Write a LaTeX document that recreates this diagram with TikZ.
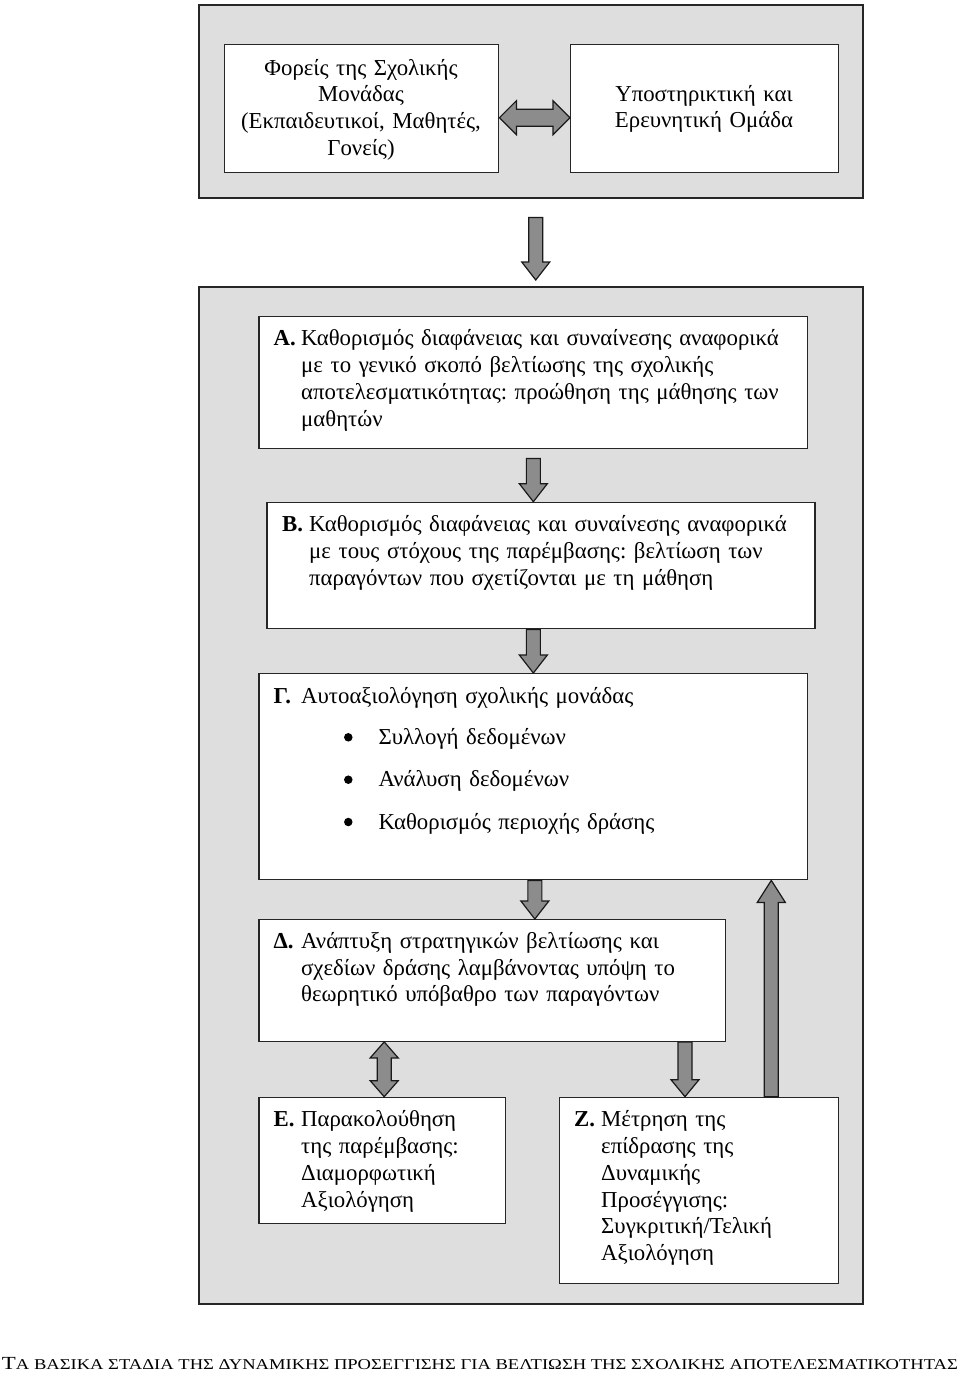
\documentclass[tikz,border=0pt]{standalone}
\usepackage{fontspec}
\usepackage{graphicx}
\setmainfont{Liberation Serif}
\usetikzlibrary{calc}
\definecolor{panel}{HTML}{DEDEDE}
\definecolor{arr}{HTML}{8C8C8C}
\frenchspacing
\tikzset{
 panelbox/.style={draw=black!85, line width=1.5pt, fill=panel, inner sep=0pt, anchor=north west},
 wbox/.style={draw=black!85, line width=1.4pt, fill=white, inner sep=0pt, anchor=north west},
 txt/.style={inner sep=0pt, font=\fontsize{22.8}{26.8}\selectfont\frenchspacing, anchor=base west, text width=560pt, align=left},
 ctxt/.style={inner sep=0pt, font=\fontsize{22.8}{26.8}\selectfont\frenchspacing, anchor=base, align=center},
 lbl/.style={inner sep=0pt, font=\fontsize{22.8}{26.8}\selectfont\bfseries, anchor=base west},
 bullet/.style={circle, fill=black, draw=none, minimum size=8.5pt, inner sep=0pt},
 blk/.style={fill=arr, draw=black!90, line width=1.2pt, line join=miter},
}
% single vertical block arrow: tail, tip, signed head length, shaft half width, head half width
\newcommand\vsingle[5]{\draw[blk] let \p1=#1, \p2=#2 in
 ({\x2-#4},\y1) -- ({\x2-#4},{\y2+(#3)}) -- ({\x2-#5},{\y2+(#3)}) -- (\x2,\y2) --
 ({\x2+#5},{\y2+(#3)}) -- ({\x2+#4},{\y2+(#3)}) -- ({\x2+#4},\y1) -- cycle;}
% double vertical block arrow: upper tip, lower tip, head length, shaft half width, head half width
\newcommand\vdouble[5]{\draw[blk] let \p1=#1, \p2=#2 in
 (\x1,\y1) -- ({\x1+#5},{\y1-#3}) -- ({\x1+#4},{\y1-#3}) -- ({\x1+#4},{\y2+#3}) --
 ({\x1+#5},{\y2+#3}) -- (\x1,\y2) -- ({\x1-#5},{\y2+#3}) -- ({\x1-#4},{\y2+#3}) --
 ({\x1-#4},{\y1-#3}) -- ({\x1-#5},{\y1-#3}) -- cycle;}
% double horizontal block arrow: left tip, right tip, head length, shaft half height, head half height
\newcommand\hdouble[5]{\draw[blk] let \p1=#1, \p2=#2 in
 (\x1,\y1) -- ({\x1+#3},{\y1+#5}) -- ({\x1+#3},{\y1+#4}) -- ({\x2-#3},{\y1+#4}) --
 ({\x2-#3},{\y1+#5}) -- (\x2,\y1) -- ({\x2-#3},{\y1-#5}) -- ({\x2-#3},{\y1-#4}) --
 ({\x1+#3},{\y1-#4}) -- ({\x1+#3},{\y1-#5}) -- cycle;}
\begin{document}
\begin{tikzpicture}[x=1pt,y=-1pt]
\useasboundingbox (0,0) rectangle (960,1377);
\fill[white] (0,0) rectangle (960,1377);
% panels
\node[panelbox, minimum width=664pt, minimum height=193pt] (P1) at (198,4) {};
\node[panelbox, minimum width=664pt, minimum height=1017pt] (P2) at (198,286) {};
% top boxes
\node[wbox, minimum width=274pt, minimum height=128pt] (F) at (224,43.5) {};
\node[wbox, minimum width=268pt, minimum height=128pt] (S) at (570,43.5) {};
\node[ctxt, text width=274pt] (Ft) at (361,75) {Φορείς της Σχολικής\\Μονάδας\\(Εκπαιδευτικοί, Μαθητές,\\Γονείς)};
\node[ctxt, text width=268pt] (St) at (704,101) {Υποστηρικτική και\\Ερευνητική Ομάδα};
% stage boxes
\node[wbox, minimum width=548.5pt, minimum height=132.3pt] (A) at (258.4,315.7) {};
\node[wbox, minimum width=548pt, minimum height=126.3pt] (B) at (266.2,501.7) {};
\node[wbox, minimum width=548.5pt, minimum height=206pt] (G) at (258.4,673) {};
\node[wbox, minimum width=466.2pt, minimum height=121.5pt] (D) at (258.4,919) {};
\node[wbox, minimum width=246.6pt, minimum height=126.3pt] (E) at (258.4,1096.7) {};
\node[wbox, minimum width=278.8pt, minimum height=186pt] (Z) at (558.8,1096.7) {};
% texts
\node[lbl] (Al) at (273.5,345.7) {Α.};
\node[txt] (At) at (301,345.7) {Καθορισμός διαφάνειας και συναίνεσης αναφορικά\\με το γενικό σκοπό βελτίωσης της σχολικής\\αποτελεσματικότητας: προώθηση της μάθησης των\\μαθητών};
\node[lbl] (Bl) at (282,531.7) {Β.};
\node[txt] (Bt) at (309,531.7) {Καθορισμός διαφάνειας και συναίνεσης αναφορικά\\με τους στόχους της παρέμβασης: βελτίωση των\\παραγόντων που σχετίζονται με τη μάθηση};
\node[lbl] (Gl) at (273.5,703.3) {Γ.};
\node[txt] (Gt) at (301,703.3) {Αυτοαξιολόγηση σχολικής μονάδας};
\node[bullet] (b1) at (348.3,737.3) {};
\node[txt] (g1) at (378.3,744.3) {Συλλογή δεδομένων};
\node[bullet] (b2) at (348.3,779.7) {};
\node[txt] (g2) at (378.3,786.7) {Ανάλυση δεδομένων};
\node[bullet] (b3) at (348.3,822) {};
\node[txt] (g3) at (378.3,829) {Καθορισμός περιοχής δράσης};
\node[lbl] (Dl) at (273.5,948.3) {Δ.};
\node[txt] (Dt) at (301,948.3) {Ανάπτυξη στρατηγικών βελτίωσης και\\σχεδίων δράσης λαμβάνοντας υπόψη το\\θεωρητικό υπόβαθρο των παραγόντων};
\node[lbl] (El) at (273.5,1126.7) {Ε.};
\node[txt] (Et) at (301,1126.7) {Παρακολούθηση\\της παρέμβασης:\\Διαμορφωτική\\Αξιολόγηση};
\node[lbl] (Zl) at (574,1126.7) {Ζ.};
\node[txt] (Zt) at (601,1126.7) {Μέτρηση της\\επίδρασης της\\Δυναμικής\\Προσέγγισης:\\Συγκριτική/Τελική\\Αξιολόγηση};
% arrows
\hdouble{($(F.east)+(0,9.5)$)}{($(S.west)+(0,9.5)$)}{17pt}{8.5pt}{17pt}
\vsingle{($(P1.south)+(5,19)$)}{($(P2.north)+(5,-6)$)}{18pt}{7pt}{14pt}
\vsingle{($(A.south)+(0,9)$)}{(A.south |- B.north)}{18pt}{7pt}{14pt}
\vsingle{(A.south |- B.south)}{(A.south |- G.north)}{18pt}{7pt}{14pt}
\vsingle{($(G.south)+(1.5,0)$)}{($(G.south |- D.north)+(1.5,0)$)}{18pt}{7pt}{14pt}
\vdouble{($(E.north |- D.south)+(1.8,0)$)}{($(E.north)+(1.8,0)$)}{16pt}{7pt}{14pt}
\vsingle{($(D.south east)+(-41,0)$)}{($(D.south east |- Z.north)+(-41,0)$)}{17pt}{7pt}{14pt}
\vsingle{($(G.south east |- Z.north)+(-37,0)$)}{($(G.south east)+(-37,0)$)}{-22pt}{7pt}{14pt}
% caption
\node[inner sep=0pt, anchor=base] (cap) at (480,1369) {\resizebox{956pt}{\height}{\fontsize{18.5}{20}\selectfont Τ\fontsize{15}{16}\selectfont Α ΒΑΣΙΚΑ ΣΤΑΔΙΑ ΤΗΣ ΔΥΝΑΜΙΚΗΣ ΠΡΟΣΕΓΓΙΣΗΣ ΓΙΑ ΒΕΛΤΙΩΣΗ ΤΗΣ ΣΧΟΛΙΚΗΣ ΑΠΟΤΕΛΕΣΜΑΤΙΚΟΤΗΤΑΣ}};
\end{tikzpicture}
\end{document}
